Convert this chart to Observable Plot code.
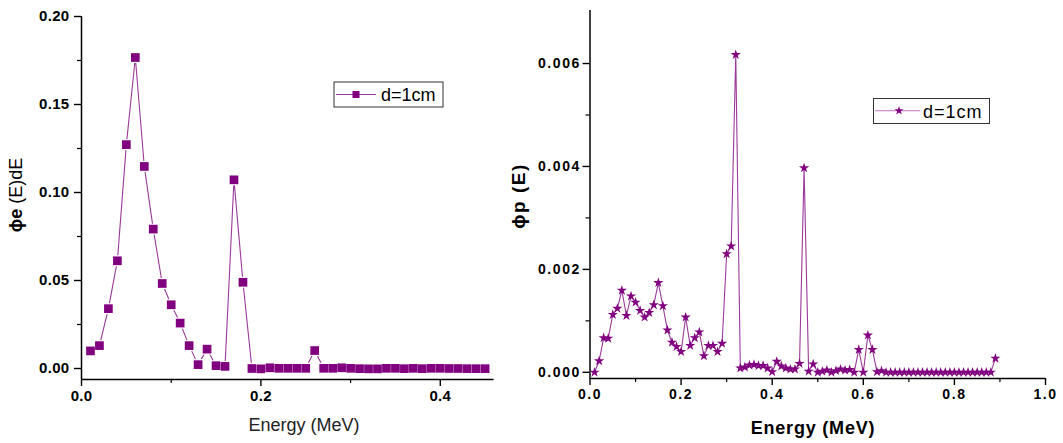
<!DOCTYPE html>
<html><head><meta charset="utf-8">
<script src="https://cdn.jsdelivr.net/npm/d3@7"></script>
<script src="https://cdn.jsdelivr.net/npm/@observablehq/plot@0.6"></script>
<style>
body{margin:0;background:#fff;}
#wrap{display:flex;width:1063px;height:443px;overflow:hidden;}
#wrap svg{font-family:"Liberation Sans",Arial,sans-serif;overflow:visible;}
</style></head><body><div id="wrap"></div>
<script>
// ---- Left chart: electron spectrum, d = 1 cm ----
const energyE = [0.01,0.02,0.03,0.04,0.05,0.06,0.07,0.08,0.09,0.10,0.11,0.12,0.13,0.14,0.15,0.16,0.17,0.18,0.19,0.20,0.21,0.22,0.23,0.24,0.25,0.26,0.27,0.28,0.29,0.30,0.31,0.32,0.33,0.34,0.35,0.36,0.37,0.38,0.39,0.40,0.41,0.42,0.43,0.44,0.45];
const phiE = [0.0100,0.0130,0.0340,0.0612,0.1272,0.1767,0.1148,0.0792,0.0483,0.0362,0.0258,0.0130,0.0022,0.0110,0.0016,0.0012,0.1072,0.0490,0.0000,-0.0002,0.0004,0.0001,0.0001,0.0001,0.0001,0.0102,0.0001,0.0001,0.0004,0.0001,-0.0001,-0.0002,-0.0002,0.0001,0.0001,-0.0001,0.0001,-0.0001,0.0001,0.0001,0.0000,0.0000,-0.0001,-0.0001,-0.0001];
const leftXTicks = [0, 0.2, 0.4];
const leftXMinor = [0.1, 0.3];
const leftYTicks = [0, 0.05, 0.10, 0.15, 0.20];
const leftYMinor = [0.025, 0.075, 0.125, 0.175];

// ---- Right chart: photon spectrum, d = 1 cm ----
const energyP = [0.01,0.02,0.03,0.04,0.05,0.06,0.07,0.08,0.09,0.10,0.11,0.12,0.13,0.14,0.15,0.16,0.17,0.18,0.19,0.20,0.21,0.22,0.23,0.24,0.25,0.26,0.27,0.28,0.29,0.30,0.31,0.32,0.33,0.34,0.35,0.36,0.37,0.38,0.39,0.40,0.41,0.42,0.43,0.44,0.45,0.46,0.47,0.48,0.49,0.50,0.51,0.52,0.53,0.54,0.55,0.56,0.57,0.58,0.59,0.60,0.61,0.62,0.63,0.64,0.65,0.66,0.67,0.68,0.69,0.70,0.71,0.72,0.73,0.74,0.75,0.76,0.77,0.78,0.79,0.80,0.81,0.82,0.83,0.84,0.85,0.86,0.87,0.88,0.89];
const phiP = [0.00000,0.00022,0.00067,0.00066,0.00112,0.00124,0.00159,0.00110,0.00148,0.00136,0.00120,0.00107,0.00116,0.00131,0.00174,0.00129,0.00082,0.00058,0.00050,0.00040,0.00107,0.00052,0.00067,0.00078,0.00032,0.00052,0.00052,0.00040,0.00056,0.00230,0.00245,0.00617,0.00008,0.00010,0.00014,0.00015,0.00013,0.00013,0.00008,0.00001,0.00021,0.00012,0.00008,0.00006,0.00006,0.00017,0.00397,0.00002,0.00016,0.00000,0.00002,0.00004,0.00000,0.00003,0.00006,0.00004,0.00005,0.00000,0.00044,0.00000,0.00072,0.00044,0.00001,0.00003,0,0,0,0,0,0,0,0,0,0,0,0,0,0,0,0,0,0,0,0,0,0,0,0,0.00027];
const rightXTicks = [0, 0.2, 0.4, 0.6, 0.8, 1.0];
const rightXMinor = [0.1, 0.3, 0.5, 0.7, 0.9];
const rightYTicks = [0, 0.002, 0.004, 0.006];
const rightYMinor = [0.001, 0.003, 0.005];

const seriesLabel = "d=1cm";
const purple = "#800080";
const lineColor = "#9a3a9a";
const font = "'Liberation Sans', Arial, sans-serif";

const dataE = energyE.map((e, i) => ({e, v: phiE[i]}));
const dataP = energyP.map((e, i) => ({e, v: phiP[i]}));

// Left plot
const leftYMin = -0.00625;
const left = Plot.plot({
  width: 500, height: 443,
  marginLeft: 81, marginRight: 6.4, marginTop: 16, marginBottom: 64,
  x: {domain: [0, 0.46]},
  y: {domain: [leftYMin, 0.2]},
  style: {fontFamily: font, color: "#000", background: "#fff"},
  marks: [
    Plot.axisX({ticks: leftXTicks, tickSize: 7, tickPadding: 4, strokeWidth: 1.4, tickFormat: d => d.toFixed(1), fontWeight: "bold", fontSize: 15, label: null}),
    Plot.axisX({ticks: leftXMinor, tickSize: 4, strokeWidth: 1.2, tickFormat: () => "", label: null}),
    Plot.axisY({ticks: leftYTicks, tickSize: 7, tickPadding: 5, strokeWidth: 1.4, tickFormat: d => d.toFixed(2), fontWeight: "bold", fontSize: 15, label: null}),
    Plot.axisY({ticks: leftYMinor, tickSize: 4, strokeWidth: 1.2, tickFormat: () => "", label: null}),
    Plot.ruleX([0], {stroke: "#000", strokeWidth: 1.5}),
    Plot.ruleY([leftYMin], {stroke: "#000", strokeWidth: 1.5}),
    Plot.line(dataE, {x: "e", y: "v", stroke: lineColor, strokeWidth: 1.1}),
    Plot.dot(dataE, {x: "e", y: "v", symbol: "square", r: 6.2, fill: "#fff", stroke: "none"}),
    Plot.dot(dataE, {x: "e", y: "v", symbol: "square", r: 4.9, fill: purple, stroke: "none"})
  ]
});

// Right plot
const rightYMin = -0.00012;
const right = Plot.plot({
  width: 563, height: 443,
  marginLeft: 89.5, marginRight: 18, marginTop: 10, marginBottom: 65,
  x: {domain: [0, 1.0]},
  y: {domain: [rightYMin, 0.00703]},
  style: {fontFamily: font, color: "#000", background: "#fff"},
  marks: [
    Plot.axisX({ticks: rightXTicks, tickSize: 7, tickPadding: 4, strokeWidth: 1.4, tickFormat: d => d.toFixed(1), fontWeight: "bold", fontSize: 14, label: null}),
    Plot.axisX({ticks: rightXMinor, tickSize: 4, strokeWidth: 1.2, tickFormat: () => "", label: null}),
    Plot.axisY({ticks: rightYTicks, tickSize: 7, tickPadding: 2, strokeWidth: 1.4, tickFormat: d => d.toFixed(3), fontWeight: "bold", fontSize: 14, label: null}),
    Plot.axisY({ticks: rightYMinor, tickSize: 4, strokeWidth: 1.2, tickFormat: () => "", label: null}),
    Plot.ruleX([0], {stroke: "#000", strokeWidth: 1.5}),
    Plot.ruleY([rightYMin], {stroke: "#000", strokeWidth: 1.5}),
    Plot.line(dataP, {x: "e", y: "v", stroke: lineColor, strokeWidth: 1.1}),
    Plot.dot(dataP, {x: "e", y: "v", symbol: "star", r: 3.2, fill: purple, stroke: "none"})
  ]
});

document.getElementById("wrap").append(left, right);

// letter spacing for tick labels (Origin-style)
d3.select(left).selectAll('g[aria-label$="tick label"]').style("letter-spacing", "0.3px");
d3.select(right).selectAll('g[aria-label$="tick label"]').style("letter-spacing", "1.6px");

// ---- Axis titles ----
const ls = d3.select(left);
const tl = ls.append("text")
  .attr("transform", "translate(16,195) rotate(-90)")
  .attr("text-anchor", "middle").attr("dominant-baseline", "central")
  .attr("font-size", 18).attr("fill", "#000");
tl.append("tspan").attr("font-weight", "bold").text("ϕe");
tl.append("tspan").text(" (E)dE");
ls.append("text").attr("x", 304).attr("y", 425)
  .attr("text-anchor", "middle").attr("dominant-baseline", "central")
  .attr("font-size", 18).attr("fill", "#222").text("Energy (MeV)");

const rs = d3.select(right);
rs.append("text")
  .attr("transform", "translate(18,196) rotate(-90)")
  .attr("text-anchor", "middle").attr("dominant-baseline", "central")
  .attr("font-size", 19).attr("font-weight", "bold").attr("letter-spacing", "1.5px")
  .attr("fill", "#000").text("ϕp (E)");
rs.append("text").attr("x", 313).attr("y", 428)
  .attr("text-anchor", "middle").attr("dominant-baseline", "central")
  .attr("font-size", 18).attr("font-weight", "bold").attr("letter-spacing", "0.8px")
  .attr("fill", "#000").text("Energy (MeV)");

// ---- Legends ----
const lgL = ls.append("g");
lgL.append("rect").attr("x", 334).attr("y", 82).attr("width", 109).attr("height", 25)
  .attr("fill", "#fff").attr("stroke", "#333").attr("stroke-width", 1);
lgL.append("line").attr("x1", 336).attr("x2", 376).attr("y1", 94.5).attr("y2", 94.5)
  .attr("stroke", lineColor).attr("stroke-width", 1.1);
lgL.append("rect").attr("x", 352.5).attr("y", 91).attr("width", 7).attr("height", 7).attr("fill", purple);
lgL.append("text").attr("x", 381).attr("y", 95).attr("text-anchor", "start").attr("dominant-baseline", "central")
  .attr("font-size", 18).attr("fill", "#000").text(seriesLabel);

const lgR = rs.append("g");
lgR.append("rect").attr("x", 373.5).attr("y", 98.5).attr("width", 116).attr("height", 25)
  .attr("fill", "#fff").attr("stroke", "#333").attr("stroke-width", 1);
lgR.append("line").attr("x1", 375).attr("x2", 420).attr("y1", 110.7).attr("y2", 110.7)
  .attr("stroke", "#c070c0").attr("stroke-width", 1.1);
lgR.append("path").attr("d", d3.symbol(d3.symbolStar, 26)()).attr("transform", "translate(399,110.7)").attr("fill", purple);
lgR.append("text").attr("x", 423).attr("y", 111.5).attr("text-anchor", "start").attr("dominant-baseline", "central")
  .attr("font-size", 18).attr("letter-spacing", "1px").attr("fill", "#000").text(seriesLabel);
</script>
</body></html>
